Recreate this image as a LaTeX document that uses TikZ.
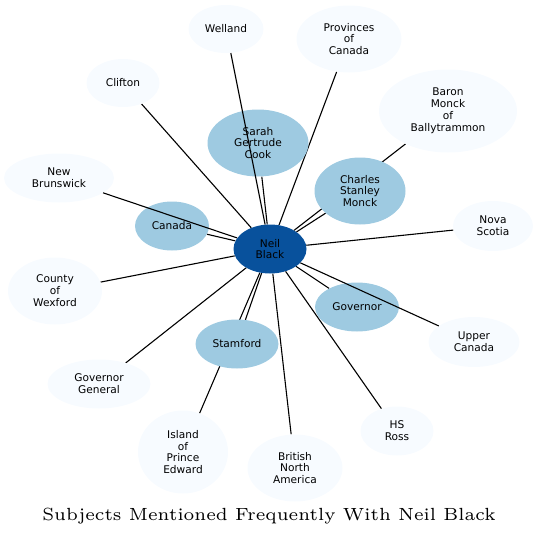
\documentclass[tikz,border=0pt]{standalone}
\usepackage{fontspec}
\newfontfamily\dvsans{DejaVu Sans}
\newfontfamily\lmsix{lmroman6-regular}[Extension=.otf]
\usetikzlibrary{shapes.geometric,backgrounds}
\definecolor{hub}{HTML}{08519C}
\definecolor{mid}{HTML}{9ECAE1}
\definecolor{pale}{HTML}{F7FBFF}
\tikzset{
  nd/.style={ellipse, inner sep=0pt, align=center, font=\dvsans\fontsize{10.6}{11.9}\selectfont, text=black},
  hubnode/.style={nd, fill=hub},
  midnode/.style={nd, fill=mid},
  palenode/.style={nd, fill=pale},
  edge/.style={draw=black, line width=1.1pt},
}
\begin{document}
\begin{tikzpicture}[x=1pt,y=-1pt]
\useasboundingbox (0,0) rectangle (538,538);
% outer nodes
\node[palenode, minimum width=75, minimum height=48] (welland) at (226,29) {Welland};
\node[palenode, minimum width=105, minimum height=67] (provinces) at (349,39) {Provinces\\of\\Canada};
\node[palenode, minimum width=73, minimum height=48] (clifton) at (123,83) {Clifton};
\node[palenode, minimum width=138, minimum height=83] (baron) at (448,111) {Baron\\Monck\\of\\Ballytrammon};
\node[palenode, minimum width=110, minimum height=49] (newbr) at (59,178) {New\\Brunswick};
\node[palenode, minimum width=80, minimum height=50] (nova) at (493,226) {Nova\\Scotia};
\node[palenode, minimum width=94, minimum height=67] (wexford) at (55,291) {County\\of\\Wexford};
\node[palenode, minimum width=91, minimum height=50] (upper) at (474,342) {Upper\\Canada};
\node[palenode, minimum width=103, minimum height=49] (govgen) at (99,384) {Governor\\General};
\node[palenode, minimum width=90, minimum height=83] (island) at (183,452) {Island\\of\\Prince\\Edward};
\node[palenode, minimum width=73, minimum height=49] (hsross) at (397,431) {HS\\Ross};
\node[palenode, minimum width=95, minimum height=67] (bna) at (295,468) {British\\North\\America};
% middle nodes
\node[midnode, minimum width=101, minimum height=67] (sarah) at (258,143) {Sarah\\Gertrude\\Cook};
\node[midnode, minimum width=91, minimum height=67] (charles) at (360,191) {Charles\\Stanley\\Monck};
\node[midnode, minimum width=74, minimum height=49] (canada) at (172,226) {Canada};
\node[midnode, minimum width=84, minimum height=49] (governor) at (357,307) {Governor};
\node[midnode, minimum width=83, minimum height=49] (stamford) at (237,344) {Stamford};
% hub
\node[hubnode, minimum width=73, minimum height=49] (neil) at (270,249) {Neil\\Black};
% edges below the nodes
\begin{pgfonlayer}{background}
\draw[edge] (provinces) -- (neil);
\draw[edge] (clifton) -- (neil);
\draw[edge] (baron) -- (neil);
\draw[edge] (sarah) -- (neil);
\draw[edge] (charles) -- (neil);
\draw[edge] (canada) -- (neil);
\draw[edge] (nova) -- (neil);
\draw[edge] (wexford) -- (neil);
\draw[edge] (governor) -- (neil);
\draw[edge] (stamford) -- (neil);
\draw[edge] (govgen) -- (neil);
\draw[edge] (island) -- (neil);
\draw[edge] (hsross) -- (neil);
\draw[edge] (bna) -- (neil);
\end{pgfonlayer}
% edges drawn over the middle nodes
\draw[edge] (welland) -- (neil);
\draw[edge] (newbr) -- (neil);
\draw[edge] (upper) -- (neil);
% title
\node[font=\lmsix\fontsize{17.6}{21}\selectfont, inner sep=0pt] (title) at (269,516) {Subjects Mentioned Frequently With Neil Black};
\end{tikzpicture}
\end{document}
